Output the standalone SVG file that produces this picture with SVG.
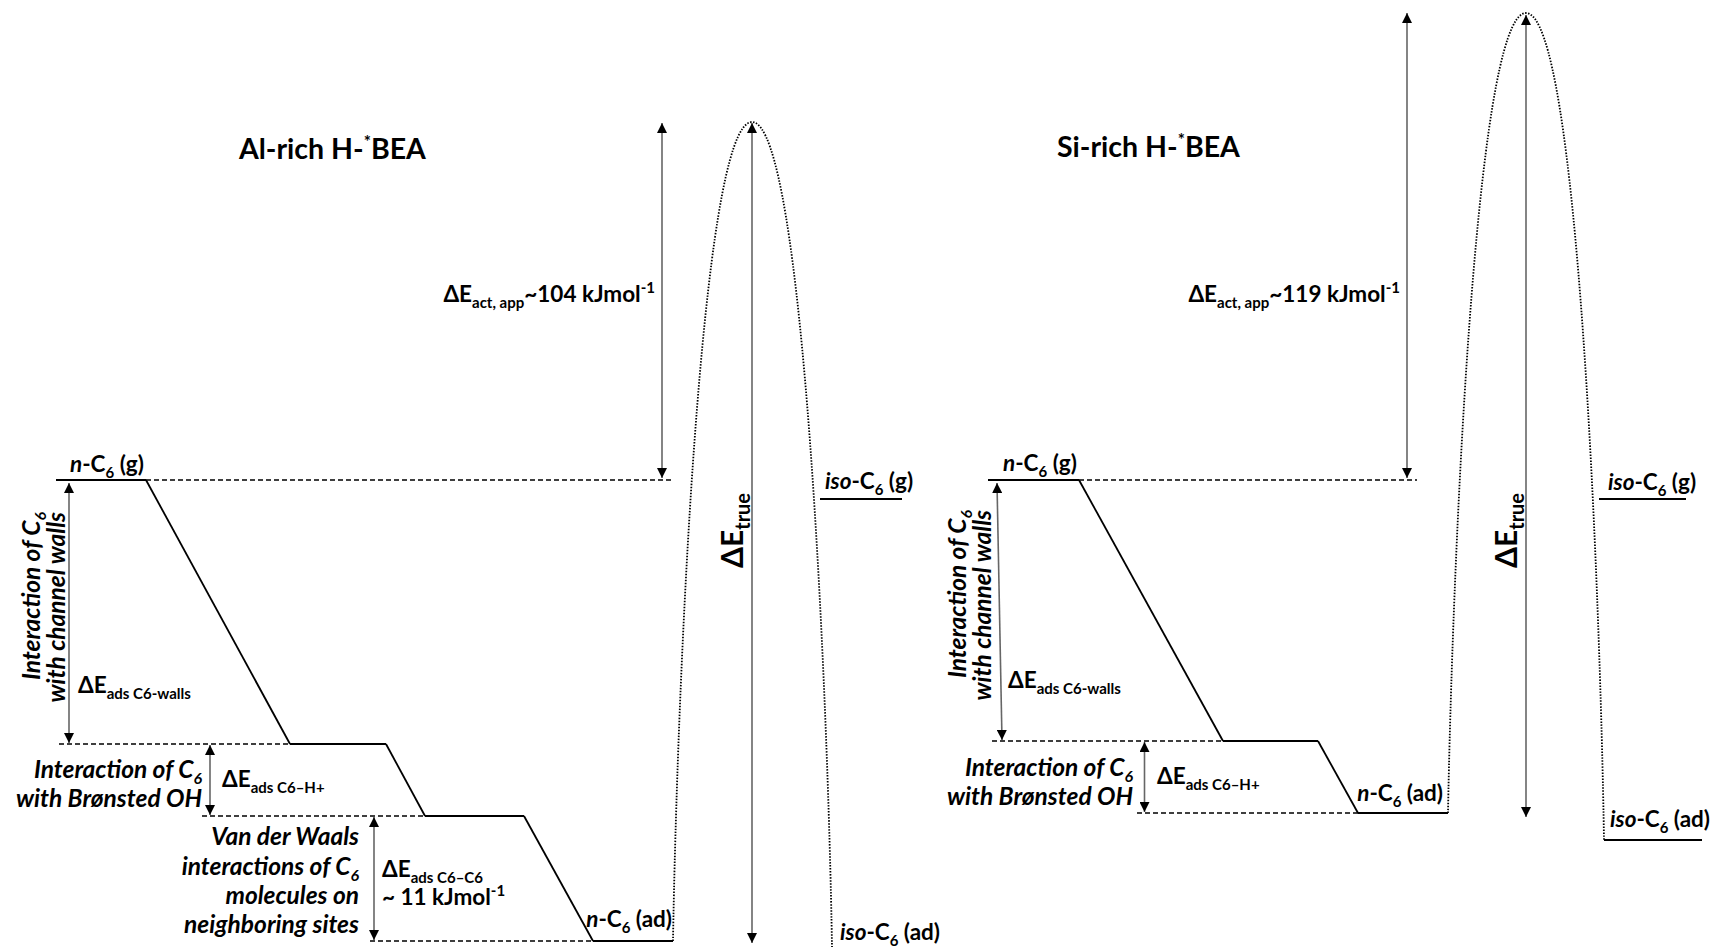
<svg xmlns="http://www.w3.org/2000/svg" width="1716" height="947" viewBox="0 0 1716 947">
<defs>
<style>
text{font-family:Lato,"Liberation Sans",sans-serif;font-weight:bold;fill:#000;font-size:22.5px}
.it{font-style:italic;font-size:24.5px}
.title{font-size:28.5px}
.sub{font-size:15px}
.isub{font-size:16px}
.big{font-size:30px}
.lvl{stroke:#000;stroke-width:2;fill:none}
.dash{stroke:#000;stroke-width:1.5;stroke-dasharray:5 3;fill:none}
.slant{stroke:#000;stroke-width:1.8;fill:none}
.dot{stroke:#000;stroke-width:1.8;stroke-dasharray:1.5 1.5;fill:none}
.arr{stroke:#666;stroke-width:1.6;fill:none;marker-start:url(#ah);marker-end:url(#ah)}
</style>
<marker id="ah" viewBox="0 0 10 10" refX="10" refY="5" markerWidth="11" markerHeight="10" markerUnits="userSpaceOnUse" orient="auto-start-reverse">
<path d="M0,0 L10,5 L0,10 z" fill="#000"/>
</marker>
</defs>
<rect width="1716" height="947" fill="#fff"/>

<!-- Left diagram: Al-rich -->
<g id="title-al"><text class="title" x="239" y="159">Al-rich H-<tspan dy="-11" style="font-size:17px">*</tspan><tspan dy="11">BEA</tspan></text></g>

<g id="al-nC6g">
<line class="lvl" x1="56" y1="480" x2="146" y2="480"/>
<line class="dash" x1="146" y1="480" x2="672" y2="480"/>
<text x="70" y="472"><tspan style="font-style:italic">n</tspan>-C<tspan class="sub" dy="5.5">6</tspan><tspan dy="-5.5"> (g)</tspan></text>
</g>
<g id="al-walls">
<line class="dash" x1="59" y1="744" x2="290" y2="744"/>
<line class="lvl" x1="290" y1="744" x2="386" y2="744"/>
<text class="it" transform="translate(40,512) rotate(-90)" text-anchor="end"><tspan x="0" y="0">Interaction of C<tspan class="isub" dy="5.5">6</tspan></tspan><tspan x="0" y="25">with channel walls</tspan></text>
<text x="78" y="693">ΔE<tspan class="sub" dy="5.5">ads C6-walls</tspan></text>
</g>
<g id="al-bronsted">
<line class="dash" x1="202" y1="816" x2="425" y2="816"/>
<line class="lvl" x1="425" y1="816" x2="524" y2="816"/>
<text class="it" text-anchor="end"><tspan x="202" y="778">Interaction of C<tspan class="isub" dy="5.5">6</tspan></tspan><tspan x="202" y="807">with Brønsted OH</tspan></text>
<text x="222" y="787">ΔE<tspan class="sub" dy="5.5">ads C6–H+</tspan></text>
</g>
<g id="al-vdw">
<line class="dash" x1="370" y1="941" x2="593" y2="941"/>
<line class="lvl" x1="593" y1="941" x2="673" y2="941"/>
<text class="it" text-anchor="end"><tspan x="359" y="845">Van der Waals</tspan><tspan x="359" y="875">interactions of C<tspan class="isub" dy="5.5">6</tspan></tspan><tspan x="359" y="904">molecules on</tspan><tspan x="359" y="933">neighboring sites</tspan></text>
<text x="382" y="877">ΔE<tspan class="sub" dy="5.5">ads C6–C6</tspan></text>
<text x="382" y="905">~ 11 kJmol<tspan class="sub" dy="-9">-1</tspan></text>
<text x="672" y="927" text-anchor="end"><tspan style="font-style:italic">n</tspan>-C<tspan class="sub" dy="5.5">6</tspan><tspan dy="-5.5"> (ad)</tspan></text>
</g>
<g id="al-isog">
<line class="lvl" x1="820" y1="499" x2="902" y2="499"/>
<text x="825" y="489"><tspan style="font-style:italic">iso</tspan>-C<tspan class="sub" dy="5.5">6</tspan><tspan dy="-5.5"> (g)</tspan></text>
</g>
<g id="al-isoad">
<text x="840" y="940"><tspan style="font-style:italic">iso</tspan>-C<tspan class="sub" dy="5.5">6</tspan><tspan dy="-5.5"> (ad)</tspan></text>
</g>
<g id="al-ts">
<path class="dot" d="M673,941 C677,700 700,122 752,122 C804,122 828,700 832,947"/>
</g>
<g id="al-labels">
<text x="655" y="302" text-anchor="end">ΔE<tspan class="sub" dy="5.5">act, app</tspan><tspan dy="-5.5">~104 kJmol</tspan><tspan class="sub" dy="-9">-1</tspan></text>
<text class="big" transform="translate(743,568) rotate(-90)">ΔE<tspan dy="7" style="font-size:20px">true</tspan></text>
</g>

<!-- Right diagram: Si-rich -->
<g id="title-si"><text class="title" x="1057" y="157">Si-rich H-<tspan dy="-11" style="font-size:17px">*</tspan><tspan dy="11">BEA</tspan></text></g>

<g id="si-nC6g">
<line class="lvl" x1="988" y1="480" x2="1079" y2="480"/>
<line class="dash" x1="1079" y1="480" x2="1417" y2="480"/>
<text x="1003" y="471"><tspan style="font-style:italic">n</tspan>-C<tspan class="sub" dy="5.5">6</tspan><tspan dy="-5.5"> (g)</tspan></text>
</g>
<g id="si-walls">
<line class="dash" x1="992" y1="741" x2="1223" y2="741"/>
<line class="lvl" x1="1223" y1="741" x2="1318" y2="741"/>
<text class="it" transform="translate(966,510) rotate(-90)" text-anchor="end"><tspan x="0" y="0">Interaction of C<tspan class="isub" dy="5.5">6</tspan></tspan><tspan x="0" y="25">with channel walls</tspan></text>
<text x="1008" y="688">ΔE<tspan class="sub" dy="5.5">ads C6-walls</tspan></text>
</g>
<g id="si-bronsted">
<line class="dash" x1="1137" y1="813" x2="1358" y2="813"/>
<line class="lvl" x1="1358" y1="813" x2="1448" y2="813"/>
<text class="it" text-anchor="end"><tspan x="1133" y="776">Interaction of C<tspan class="isub" dy="5.5">6</tspan></tspan><tspan x="1133" y="805">with Brønsted OH</tspan></text>
<text x="1157" y="784">ΔE<tspan class="sub" dy="5.5">ads C6–H+</tspan></text>
<text x="1443" y="801" text-anchor="end"><tspan style="font-style:italic">n</tspan>-C<tspan class="sub" dy="5.5">6</tspan><tspan dy="-5.5"> (ad)</tspan></text>
</g>
<g id="si-isog">
<line class="lvl" x1="1599" y1="499" x2="1686" y2="499"/>
<text x="1608" y="490"><tspan style="font-style:italic">iso</tspan>-C<tspan class="sub" dy="5.5">6</tspan><tspan dy="-5.5"> (g)</tspan></text>
</g>
<g id="si-isoad">
<line class="lvl" x1="1604" y1="840" x2="1702" y2="840"/>
<text x="1610" y="827"><tspan style="font-style:italic">iso</tspan>-C<tspan class="sub" dy="5.5">6</tspan><tspan dy="-5.5"> (ad)</tspan></text>
</g>
<g id="si-ts">
<path class="dot" d="M1448,813 C1452,590 1474,13 1526,13 C1578,13 1600,590 1604,840"/>
</g>
<g id="si-labels">
<text x="1400" y="302" text-anchor="end">ΔE<tspan class="sub" dy="5.5">act, app</tspan><tspan dy="-5.5">~119 kJmol</tspan><tspan class="sub" dy="-9">-1</tspan></text>
<text class="big" transform="translate(1517,568) rotate(-90)">ΔE<tspan dy="7" style="font-size:20px">true</tspan></text>
</g>

<!-- Connectors -->
<g id="connectors">
<line class="slant" x1="146" y1="480" x2="290" y2="744"/>
<line class="slant" x1="386" y1="744" x2="425" y2="816"/>
<line class="slant" x1="524" y1="816" x2="593" y2="941"/>
<line class="slant" x1="1079" y1="480" x2="1223" y2="741"/>
<line class="slant" x1="1318" y1="741" x2="1358" y2="813"/>
<line class="arr" x1="662" y1="123" x2="662" y2="478"/>
<line class="arr" x1="752" y1="123" x2="752" y2="943"/>
<line class="arr" x1="69" y1="483" x2="69" y2="743"/>
<line class="arr" x1="210" y1="745" x2="210" y2="815"/>
<line class="arr" x1="374" y1="817" x2="374" y2="940"/>
<line class="arr" x1="1407" y1="13" x2="1407" y2="478"/>
<line class="arr" x1="1526" y1="15" x2="1526" y2="817"/>
<line class="arr" x1="997" y1="483" x2="1002" y2="740"/>
<line class="arr" x1="1144.5" y1="742" x2="1144.5" y2="812"/>
</g>
</svg>
